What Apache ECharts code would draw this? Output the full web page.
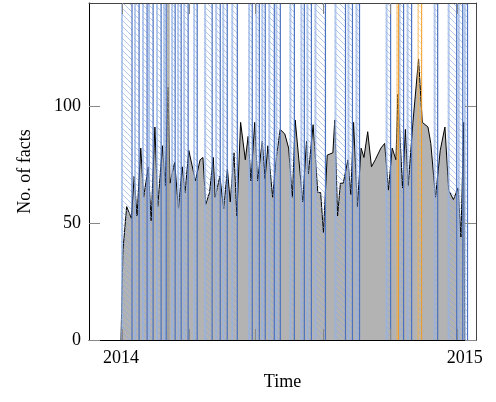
<!DOCTYPE html>
<html>
<head>
<meta charset="utf-8">
<script src="https://cdn.jsdelivr.net/npm/echarts@6/dist/echarts.min.js"></script>
<style>
html, body { margin: 0; padding: 0; background: #fff; }
#container { width: 496px; height: 402px; }
</style>
</head>
<body>
<div id="container"></div>
<script>
// day index counted from 2014-01-01
let days = [0, 2, 6, 11, 14, 17, 21, 24, 29, 32, 36, 39, 44, 47, 50, 52, 57, 61, 65, 68,
    72, 79, 84, 87, 90, 94, 98, 100, 105, 109, 113, 116, 120, 123, 127, 132, 135, 138, 142, 145,
    150, 153, 156, 161, 165, 169, 174, 178, 182, 185, 193, 197, 199, 204, 209, 212, 215, 219, 225, 227,
    230, 233, 236, 241, 244, 247, 251, 255, 258, 262, 266, 270, 276, 280, 284, 288, 292, 294, 299, 302,
    305, 310, 316, 320, 326, 329, 334, 339, 344, 348, 353, 358, 361, 364, 365];
let facts = [0, 38, 57, 52, 70, 53, 82, 61, 74, 51, 91, 57, 83, 66, 108, 67, 76, 56, 74, 63,
    81, 68, 77, 78, 58, 63, 78, 61, 70, 56, 73, 59, 80, 53, 93, 77, 87, 68, 93, 68,
    85, 69, 83, 61, 78, 90, 88, 82, 61, 94, 59, 85, 71, 92, 63, 63, 46, 79, 80, 94,
    53, 67, 67, 77, 62, 93, 57, 82, 78, 89, 74, 77, 82, 84, 64, 82, 77, 105, 65, 90,
    66, 93, 120, 93, 91, 84, 61, 81, 91, 64, 60, 65, 44, 93, 0];

// detected intervals (start day, end day)
let lowBands = [[0, 11.7], [13.8, 19.2], [22.3, 27.7], [28.7, 34.1], [37.2, 42.6], [44.7, 48],
    [53.2, 57.5], [59.6, 63.9], [66, 71.3], [76.6, 80.9], [88.3, 96.8], [100, 105.4], [107.5, 112.8],
    [117.1, 123.5], [135, 139.4], [142.6, 146.9], [149, 153.2], [156.4, 162.8], [163.9, 169.2],
    [178.8, 184.1], [190.5, 194.7], [196.9, 202.2], [205.4, 217.1], [226.7, 238.4], [240.5, 245.8],
    [249, 253.3], [281, 286.3], [294.8, 300.1], [303.3, 308.6], [332, 336.3], [346.9, 356.5],
    [357.6, 362.9], [364, 368]];
let highBands = [[292.6, 294.8], [315, 319.3]];
let peakBands = [[49, 51]];

let tickDays = [1, 72, 143, 215, 286, 357];
let yearDays = [0, 365];
let yearLabels = ['2014', '2015'];
let yTicks = [0, 50, 100];

function hatch(color) {
    let c = document.createElement('canvas');
    c.width = 6; c.height = 6;
    let g = c.getContext('2d');
    g.strokeStyle = color;
    g.lineWidth = 1;
    g.beginPath();
    g.moveTo(-1, -1); g.lineTo(7, 7);
    g.moveTo(-1, 5); g.lineTo(1, 7);
    g.moveTo(5, -1); g.lineTo(7, 1);
    g.stroke();
    return {image: c, repeat: 'repeat'};
}

function bandSeries(bands, fillColor, light, dark, lightW, darkW) {
    let pattern = hatch(fillColor);
    return {
        type: 'custom',
        z: 5,
        silent: true,
        clip: true,
        data: bands,
        renderItem: function (params, api) {
            let cs = params.coordSys;
            let a = api.coord([api.value(0), 0])[0];
            let b = api.coord([api.value(1), 0])[0];
            return {
                type: 'group',
                children: [
                    {type: 'rect', shape: {x: a, y: cs.y, width: b - a, height: cs.height},
                     style: {fill: pattern}},
                    {type: 'line', shape: {x1: a + lightW / 2, y1: cs.y, x2: a + lightW / 2, y2: cs.y + cs.height},
                     style: {stroke: light, lineWidth: lightW}},
                    {type: 'line', shape: {x1: b, y1: cs.y, x2: b, y2: cs.y + cs.height},
                     style: {stroke: dark, lineWidth: darkW}}
                ]
            };
        }
    };
}

let font = 'Liberation Serif';
let chart = echarts.init(document.getElementById('container'));

chart.setOption({
    animation: false,
    grid: {left: 89, right: 20, top: 3, bottom: 62},
    xAxis: [{
        type: 'value', min: -34, max: 377, z: 10,
        name: 'Time', nameLocation: 'middle', nameGap: 33,
        nameTextStyle: {fontFamily: font, fontSize: 18, color: '#000'},
        axisLine: {onZero: false, lineStyle: {color: '#000', width: 1}},
        axisTick: {inside: true, length: 11, customValues: tickDays, lineStyle: {color: '#888'}},
        axisLabel: {customValues: yearDays, margin: 9, fontFamily: font, fontSize: 18, color: '#000',
            formatter: v => yearLabels[yearDays.indexOf(v)]},
        splitLine: {show: false}
    }, {
        type: 'value', position: 'top', min: -34, max: 377, z: 10,
        axisLine: {onZero: false, lineStyle: {color: '#444', width: 1}},
        axisTick: {inside: true, length: 11, customValues: tickDays, lineStyle: {color: '#888'}},
        axisLabel: {show: false},
        splitLine: {show: false}
    }],
    yAxis: [{
        type: 'value', min: 0, max: 144, z: 10,
        name: 'No. of facts', nameLocation: 'middle', nameGap: 55,
        nameTextStyle: {fontFamily: font, fontSize: 18, color: '#000'},
        axisLine: {show: true, onZero: false, lineStyle: {color: '#000', width: 1}},
        axisTick: {show: true, inside: true, length: 11, customValues: yTicks, lineStyle: {color: '#888'}},
        axisLabel: {customValues: yTicks, margin: 8, fontFamily: font, fontSize: 18, color: '#000'},
        splitLine: {show: false}
    }, {
        type: 'value', position: 'right', min: 0, max: 144, z: 10,
        axisLine: {show: true, onZero: false, lineStyle: {color: '#444', width: 1}},
        axisTick: {show: true, inside: true, length: 11, customValues: yTicks, lineStyle: {color: '#888'}},
        axisLabel: {show: false},
        splitLine: {show: false}
    }],
    series: [{
        type: 'line',
        z: 2,
        data: days.map((d, i) => [d, facts[i]]),
        showSymbol: false,
        lineStyle: {color: '#000', width: 1},
        areaStyle: {color: '#b3b3b3', opacity: 1}
    },
    bandSeries(lowBands, 'rgba(130,165,230,0.6)', 'rgba(150,178,228,0.7)', '#4a72c0', 2, 1.2),
    bandSeries(highBands, 'rgba(245,190,100,0.6)', 'rgba(245,175,70,0.85)', '#f29b1d', 1, 1),
    bandSeries(peakBands, 'rgba(230,200,90,0.8)', 'rgba(150,150,150,0.8)', '#999', 1.5, 1)]
});
</script>
</body>
</html>
